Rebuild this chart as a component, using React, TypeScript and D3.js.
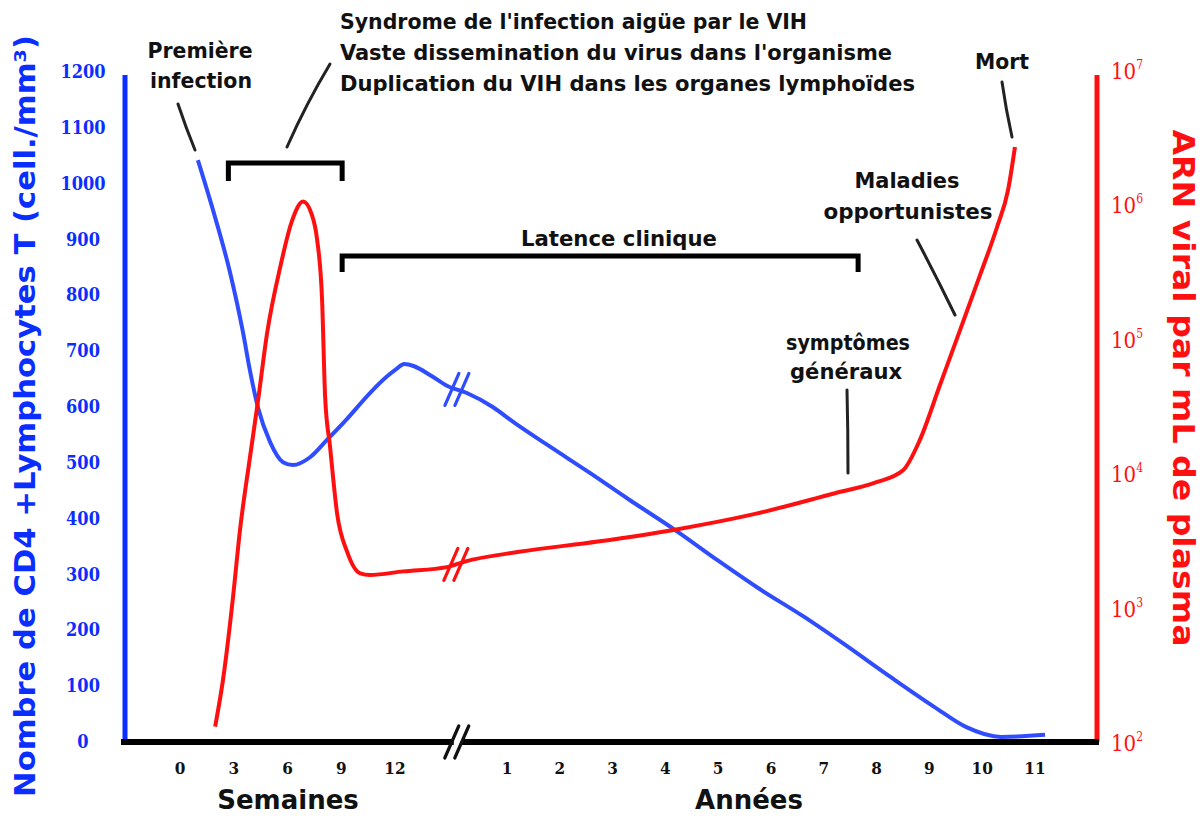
import React from "react";
import * as d3 from "d3";

// tick labels
const weekTicks = [0, 3, 6, 9, 12];
const yearTicks = [1, 2, 3, 4, 5, 6, 7, 8, 9, 10, 11];
const cd4Ticks = [0, 100, 200, 300, 400, 500, 600, 700, 800, 900, 1000, 1100, 1200];
const rnaExponents = [2, 3, 4, 5, 6, 7];

// CD4 count (cells/mm3): [weeks, value] then [years, value]
const cd4Weeks: [number, number][] = [
  [1.0, 1042], [1.84, 953], [2.8, 840], [3.52, 733], [3.9, 666], [4.36, 598],
  [5.03, 537], [5.75, 501], [6.3, 496], [7.26, 510], [8.2, 541], [9.3, 578],
  [10.6, 625], [11.56, 655], [12.07, 668], [12.51, 677], [13.07, 673],
  [13.97, 657], [14.9, 638],
];
const cd4Years: [number, number][] = [
  [0.24, 625], [0.73, 600], [1.15, 571], [1.83, 528], [2.57, 482], [3.33, 433],
  [4.18, 380], [4.98, 326], [5.72, 278], [6.63, 224], [7.36, 177], [8.27, 116],
  [9.09, 63], [9.69, 27], [10.36, 9], [11.19, 13],
];

// viral RNA copies per mL
const rnaWeeks: [number, number][] = [
  [1.96, 130], [2.4, 290], [2.96, 1200], [3.35, 3800], [3.9, 13000], [4.36, 35000],
  [4.86, 110000], [5.59, 340000], [6.26, 760000], [6.87, 1050000], [7.37, 830000],
  [7.65, 550000], [7.93, 195000], [8.1, 37000], [8.38, 15500], [8.77, 5000],
  [9.33, 2600], [10.06, 1800], [10.6, 1750], [12.46, 1860], [14.9, 2000],
];
const rnaYears: [number, number][] = [
  [0.2, 2200], [1.23, 2600], [2.72, 3100], [4.18, 3800], [5.72, 5000], [7.21, 7100],
  [7.97, 8500], [8.5, 10500], [8.82, 17700], [9.2, 45300], [9.58, 116000],
  [9.96, 299000], [10.28, 676000], [10.49, 1280000], [10.62, 2670000],
];

const syndromeLines = [
  "Syndrome de l'infection aigüe par le VIH",
  "Vaste dissemination du virus dans l'organisme",
  "Duplication du VIH dans les organes lymphoïdes",
];

const BLUE = "#0a2eff";
const BLUE_LINE = "#2f4dff";
const RED = "#ff1010";
const INK = "#111";
const ANN = "'DejaVu Sans Condensed', 'DejaVu Sans', sans-serif";
const SERIF = "'DejaVu Serif Condensed', 'DejaVu Serif', serif";
const SANS = "'DejaVu Sans', sans-serif";

export default function App() {
  const width = 1204;
  const height = 816;

  const xW = d3.scaleLinear().domain([0, 12]).range([180, 395]);
  const xY = d3.scaleLinear().domain([1, 11]).range([507, 1035]);
  const yL = d3.scaleLinear().domain([0, 1200]).range([742, 72]);
  const yR = d3.scaleLog().domain([1e2, 1e7]).range([742, 70]);

  const line = d3.line<[number, number]>().curve(d3.curveMonotoneX);

  const cd4Pts: [number, number][] = [
    ...cd4Weeks.map((d) => [xW(d[0]), yL(d[1])] as [number, number]),
    ...cd4Years.map((d) => [xY(d[0]), yL(d[1])] as [number, number]),
  ];
  const rnaPts: [number, number][] = [
    ...rnaWeeks.map((d) => [xW(d[0]), yR(d[1])] as [number, number]),
    ...rnaYears.map((d) => [xY(d[0]), yR(d[1])] as [number, number]),
  ];

  const breakMid = (w: [number, number], y: [number, number], ys: (v: number) => number) => {
    const ax = xW(w[0]);
    const bx = xY(y[0]);
    return [(ax + bx) / 2, (ys(w[1]) + ys(y[1])) / 2];
  };
  const cd4Break = breakMid(cd4Weeks[cd4Weeks.length - 1], cd4Years[0], yL);
  const rnaBreak = breakMid(rnaWeeks[rnaWeeks.length - 1], rnaYears[0], yR);
  const axisY = yL(0);
  const axisBreakX = (xW(15) + xY(0.2)) / 2;

  const breakMark = (cx: number, cy: number, color: string, key: string) => (
    <g key={key} stroke={color} strokeWidth={3.2} strokeLinecap="round">
      {[-5, 5].map((o) => (
        <line key={o} x1={cx + o - 7} y1={cy + 16} x2={cx + o + 7} y2={cy - 16} />
      ))}
    </g>
  );

  // brackets, in data positions
  const b1a = xW(2.7);
  const b1b = xW(9.05);
  const b2b = xY(7.65);

  return (
    <svg
      width={width}
      height={height}
      style={{ position: "absolute", left: 0, top: 0, background: "#fff" }}
    >
      {/* left axis */}
      <line x1={125} x2={125} y1={yL(1200) + 3} y2={axisY} stroke={BLUE} strokeWidth={5} />
      {cd4Ticks.map((t) => (
        <text
          key={t}
          x={83}
          y={yL(t) + 6}
          textAnchor="middle"
          fontFamily={SERIF}
          fontWeight="bold"
          fontSize={18}
          fill={BLUE}
        >
          {t}
        </text>
      ))}
      <text
        transform={`translate(35, ${416}) rotate(-90)`}
        textAnchor="middle"
        fontFamily={SANS}
        fontWeight="bold"
        fontSize={28}
        fill={BLUE}
        textLength={762}
        lengthAdjust="spacingAndGlyphs"
      >
        Nombre de CD4 +Lymphocytes T (cell./mm³)
      </text>

      {/* right axis */}
      <line x1={1097} x2={1097} y1={yR(1e7) + 5} y2={axisY} stroke={RED} strokeWidth={5} />
      {rnaExponents.map((e) => (
        <text
          key={e}
          x={1111}
          y={yR(Math.pow(10, e)) + 9}
          fontFamily={SERIF}
          fontSize={22}
          fill={RED}
        >
          10
          <tspan fontSize={12} dy={-10}>
            {e}
          </tspan>
        </text>
      ))}
      <text
        transform={`translate(1173, ${388}) rotate(90)`}
        textAnchor="middle"
        fontFamily={SANS}
        fontWeight="bold"
        fontSize={30}
        fill={RED}
        textLength={517}
        lengthAdjust="spacingAndGlyphs"
      >
        ARN viral par mL de plasma
      </text>

      {/* bottom axis */}
      <line x1={121} x2={axisBreakX - 3} y1={axisY} y2={axisY} stroke="#000" strokeWidth={6} />
      <line x1={axisBreakX + 5} x2={1099} y1={axisY} y2={axisY} stroke="#000" strokeWidth={6} />
      {breakMark(axisBreakX, axisY, "#111", "axis-break")}
      {weekTicks.map((t) => (
        <text key={"w" + t} x={xW(t)} y={774} textAnchor="middle" fontFamily={SERIF} fontWeight="bold" fontSize={17} fill={INK}>
          {t}
        </text>
      ))}
      {yearTicks.map((t) => (
        <text key={"y" + t} x={xY(t)} y={774} textAnchor="middle" fontFamily={SERIF} fontWeight="bold" fontSize={17} fill={INK}>
          {t}
        </text>
      ))}
      <text x={288} y={809} textAnchor="middle" fontFamily={SANS} fontWeight="bold" fontSize={26} fill={INK}>
        Semaines
      </text>
      <text x={749} y={809} textAnchor="middle" fontFamily={SANS} fontWeight="bold" fontSize={26} fill={INK}>
        Années
      </text>

      {/* curves */}
      <path d={line(cd4Pts) ?? ""} fill="none" stroke={BLUE_LINE} strokeWidth={4} strokeLinejoin="round" />
      <path d={line(rnaPts) ?? ""} fill="none" stroke={RED} strokeWidth={4} strokeLinejoin="round" />
      {breakMark(cd4Break[0], cd4Break[1], BLUE_LINE, "cd4-break")}
      {breakMark(rnaBreak[0], rnaBreak[1], RED, "rna-break")}

      {/* brackets */}
      <path
        d={`M${b1a},181 V163 H${b1b} V181`}
        fill="none"
        stroke="#000"
        strokeWidth={5}
      />
      <path
        d={`M${b1b},272 V256 H${b2b} V272`}
        fill="none"
        stroke="#000"
        strokeWidth={5}
      />

      {/* annotations */}
      <g fontFamily={ANN} fontWeight="bold" fontSize={22} fill={INK}>
        <text x={200} y={58} textAnchor="middle" textLength={105} lengthAdjust="spacingAndGlyphs">
          Première
        </text>
        <text x={201} y={88} textAnchor="middle" textLength={102} lengthAdjust="spacingAndGlyphs">
          infection
        </text>
        {syndromeLines.map((s, i) => (
          <text
            key={i}
            x={340}
            y={29 + i * 31}
            textLength={[467, 552, 575][i]}
            lengthAdjust="spacingAndGlyphs"
          >
            {s}
          </text>
        ))}
        <text x={619} y={246} textAnchor="middle" textLength={196} lengthAdjust="spacingAndGlyphs">
          Latence clinique
        </text>
        <text x={907} y={188} textAnchor="middle" textLength={105} lengthAdjust="spacingAndGlyphs">
          Maladies
        </text>
        <text x={908} y={219} textAnchor="middle" textLength={169} lengthAdjust="spacingAndGlyphs">
          opportunistes
        </text>
        <text x={848} y={350} textAnchor="middle" textLength={124} lengthAdjust="spacingAndGlyphs">
          symptômes
        </text>
        <text x={846} y={379} textAnchor="middle" textLength={112} lengthAdjust="spacingAndGlyphs">
          généraux
        </text>
        <text x={1002} y={69} textAnchor="middle" textLength={54} lengthAdjust="spacingAndGlyphs">
          Mort
        </text>
      </g>

      {/* pointer lines */}
      <g stroke="#222" strokeWidth={3} strokeLinecap="round" fill="none">
        <path d="M178,104 Q186,128 195,150" />
        <path d="M330,64 Q306,104 287,147" />
        <path d="M917,240 Q936,276 955,315" />
        <path d="M1002,82 Q1006,110 1012,137" />
        <path d="M847,390 Q848,430 848,473" />
      </g>
    </svg>
  );
}
